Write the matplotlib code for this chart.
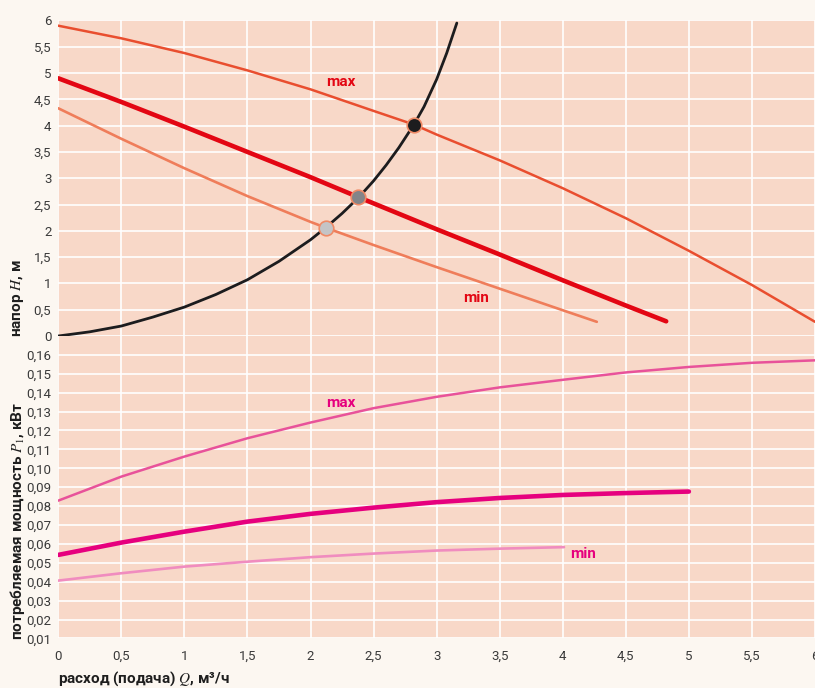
import matplotlib
matplotlib.use("Agg")
import matplotlib.pyplot as plt
from matplotlib.ticker import FuncFormatter, MultipleLocator

plt.rcParams['font.family'] = ['Roboto', 'DejaVu Sans']
plt.rcParams['mathtext.fontset'] = 'stix'

# --- напор H(Q), м
q_hmax = [0, 0.5, 1.0, 1.5, 2.0, 2.5, 2.82, 3.0, 3.5, 4.0, 4.5, 5.0, 5.5, 6.0]
h_max = [5.90, 5.66, 5.38, 5.05, 4.69, 4.28, 4.02, 3.83, 3.34, 2.81, 2.24, 1.62, 0.97, 0.27]

q_hmid = [0, 0.5, 1.0, 1.5, 2.0, 2.38, 3.0, 3.5, 4.0, 4.5, 4.82]
h_mid = [4.90, 4.45, 3.98, 3.50, 3.02, 2.64, 2.03, 1.55, 1.06, 0.58, 0.28]

q_hmin = [0, 0.5, 1.0, 1.5, 2.0, 2.12, 2.5, 3.0, 3.5, 4.0, 4.27]
h_min = [4.33, 3.75, 3.19, 2.66, 2.17, 2.06, 1.73, 1.31, 0.90, 0.49, 0.27]

# характеристика сети
q_sys = [0, 0.25, 0.5, 0.75, 1.0, 1.25, 1.5, 1.75, 2.0, 2.12, 2.25, 2.38, 2.5,
         2.6, 2.7, 2.82, 2.9, 3.0, 3.08, 3.16]
h_sys = [0, 0.08, 0.19, 0.36, 0.55, 0.79, 1.07, 1.42, 1.83, 2.06, 2.33, 2.63, 2.95,
         3.25, 3.58, 4.02, 4.36, 4.88, 5.38, 5.95]

# рабочие точки
q_pts = [2.82, 2.38, 2.12]
h_pts = [4.02, 2.64, 2.06]
pt_colors = ['#1c1c1e', '#848488', '#c4c4c6']

# --- мощность P1(Q), кВт
q_pmax = [0, 0.5, 1.0, 1.5, 2.0, 2.5, 3.0, 3.5, 4.0, 4.5, 5.0, 5.5, 6.0]
p_max = [0.0829, 0.0956, 0.1062, 0.1159, 0.1242, 0.1318, 0.1378, 0.1428, 0.1468,
         0.1507, 0.1536, 0.1558, 0.1571]

q_pmid = [0, 0.5, 1.0, 1.5, 2.0, 2.5, 3.0, 3.5, 4.0, 4.5, 5.0]
p_mid = [0.0542, 0.0607, 0.0665, 0.0718, 0.0759, 0.0792, 0.0821, 0.0843, 0.0859,
         0.0869, 0.0877]

q_pmin = [0, 0.5, 1.0, 1.5, 2.0, 2.5, 3.0, 3.5, 4.01]
p_min = [0.0406, 0.0445, 0.0480, 0.0506, 0.0530, 0.0549, 0.0565, 0.0575, 0.0583]

x_ticks = [0, 0.5, 1, 1.5, 2, 2.5, 3, 3.5, 4, 4.5, 5, 5.5, 6]

BG = '#fcf7f1'
FACE = '#f8d8c8'
RED = '#e30613'
MAGENTA = '#e6007e'
TXT = '#1e1e1e'


def comma(v, nd=None):
    s = f'{v:g}' if nd is None else f'{v:.{nd}f}'
    return s.replace('.', ',')


def style(ax):
    ax.set_facecolor(FACE)
    for sp in ax.spines.values():
        sp.set_visible(False)
    ax.grid(True, color='white', lw=1.2)
    ax.set_axisbelow(True)
    ax.tick_params(length=0, labelsize=9.5, colors='#3a3a3a')
    ax.set_xlim(0, 6)
    ax.set_xticks(x_ticks)


fig = plt.figure(figsize=(8.15, 6.88), dpi=100, facecolor=BG)
ax1 = fig.add_axes([0.0715, 0.5116, 0.9285, 0.4587])
ax2 = fig.add_axes([0.0715, 0.0720, 0.9285, 0.4397])

# верхний график
style(ax1)
ax1.set_ylim(0, 6)
ax1.yaxis.set_major_locator(MultipleLocator(0.5))
ax1.yaxis.set_major_formatter(FuncFormatter(lambda v, p: comma(v)))
ax1.tick_params(axis='x', labelbottom=False)
ax1.tick_params(axis='y', pad=5)

ax1.plot(q_hmax, h_max, color='#e94e2f', lw=1.8, solid_capstyle='round')
ax1.plot(q_hmid, h_mid, color=RED, lw=3.3, solid_capstyle='round')
ax1.plot(q_hmin, h_min, color='#ef7d5a', lw=1.9, solid_capstyle='round')
ax1.plot(q_sys, h_sys, color='#1c1c1e', lw=2.0, solid_capstyle='round')
for q, h, c in zip(q_pts, h_pts, pt_colors):
    ax1.plot(q, h, 'o', ms=10.5, mfc=c, mec='#ef8a66', mew=1.2, zorder=5)

ax1.text(2.24, 4.83, 'max', color=RED, fontsize=11, fontweight='bold',
         ha='center', va='center')
ax1.text(3.31, 0.72, 'min', color=RED, fontsize=11, fontweight='bold',
         ha='center', va='center')

# нижний график
style(ax2)
ax2.set_ylim(0.01, 0.17)
ax2.set_yticks([i / 100 for i in range(1, 17)])
ax2.yaxis.set_major_formatter(FuncFormatter(lambda v, p: comma(v, nd=2)))
ax2.xaxis.set_major_formatter(FuncFormatter(lambda v, p: comma(v)))
ax2.tick_params(axis='y', pad=5)
ax2.tick_params(axis='x', pad=8)

ax2.plot(q_pmax, p_max, color='#e8529a', lw=1.8, solid_capstyle='round')
ax2.plot(q_pmid, p_mid, color=MAGENTA, lw=3.3, solid_capstyle='round')
ax2.plot(q_pmin, p_min, color='#f08cbf', lw=1.9, solid_capstyle='round')

ax2.text(2.24, 0.1346, 'max', color=MAGENTA, fontsize=11, fontweight='bold',
         ha='center', va='center')
ax2.text(4.16, 0.0547, 'min', color=MAGENTA, fontsize=11, fontweight='bold',
         ha='center', va='center')

# подписи осей
fig.text(0.021, 1 - 337 / 688, 'напор $H$, м', rotation=90, fontsize=11,
         fontweight='bold', ha='center', va='bottom', color=TXT)
fig.text(0.021, 1 - 640 / 688, 'потребляемая мощность $P_1$, кВт', rotation=90,
         fontsize=11, fontweight='bold', ha='center', va='bottom', color=TXT)
fig.text(0.0715, 1 - 679 / 688, 'расход (подача) $Q$, м³/ч', fontsize=11,
         fontweight='bold', ha='left', va='center', color=TXT)

fig.savefig('out.png', dpi=100, facecolor=BG)
